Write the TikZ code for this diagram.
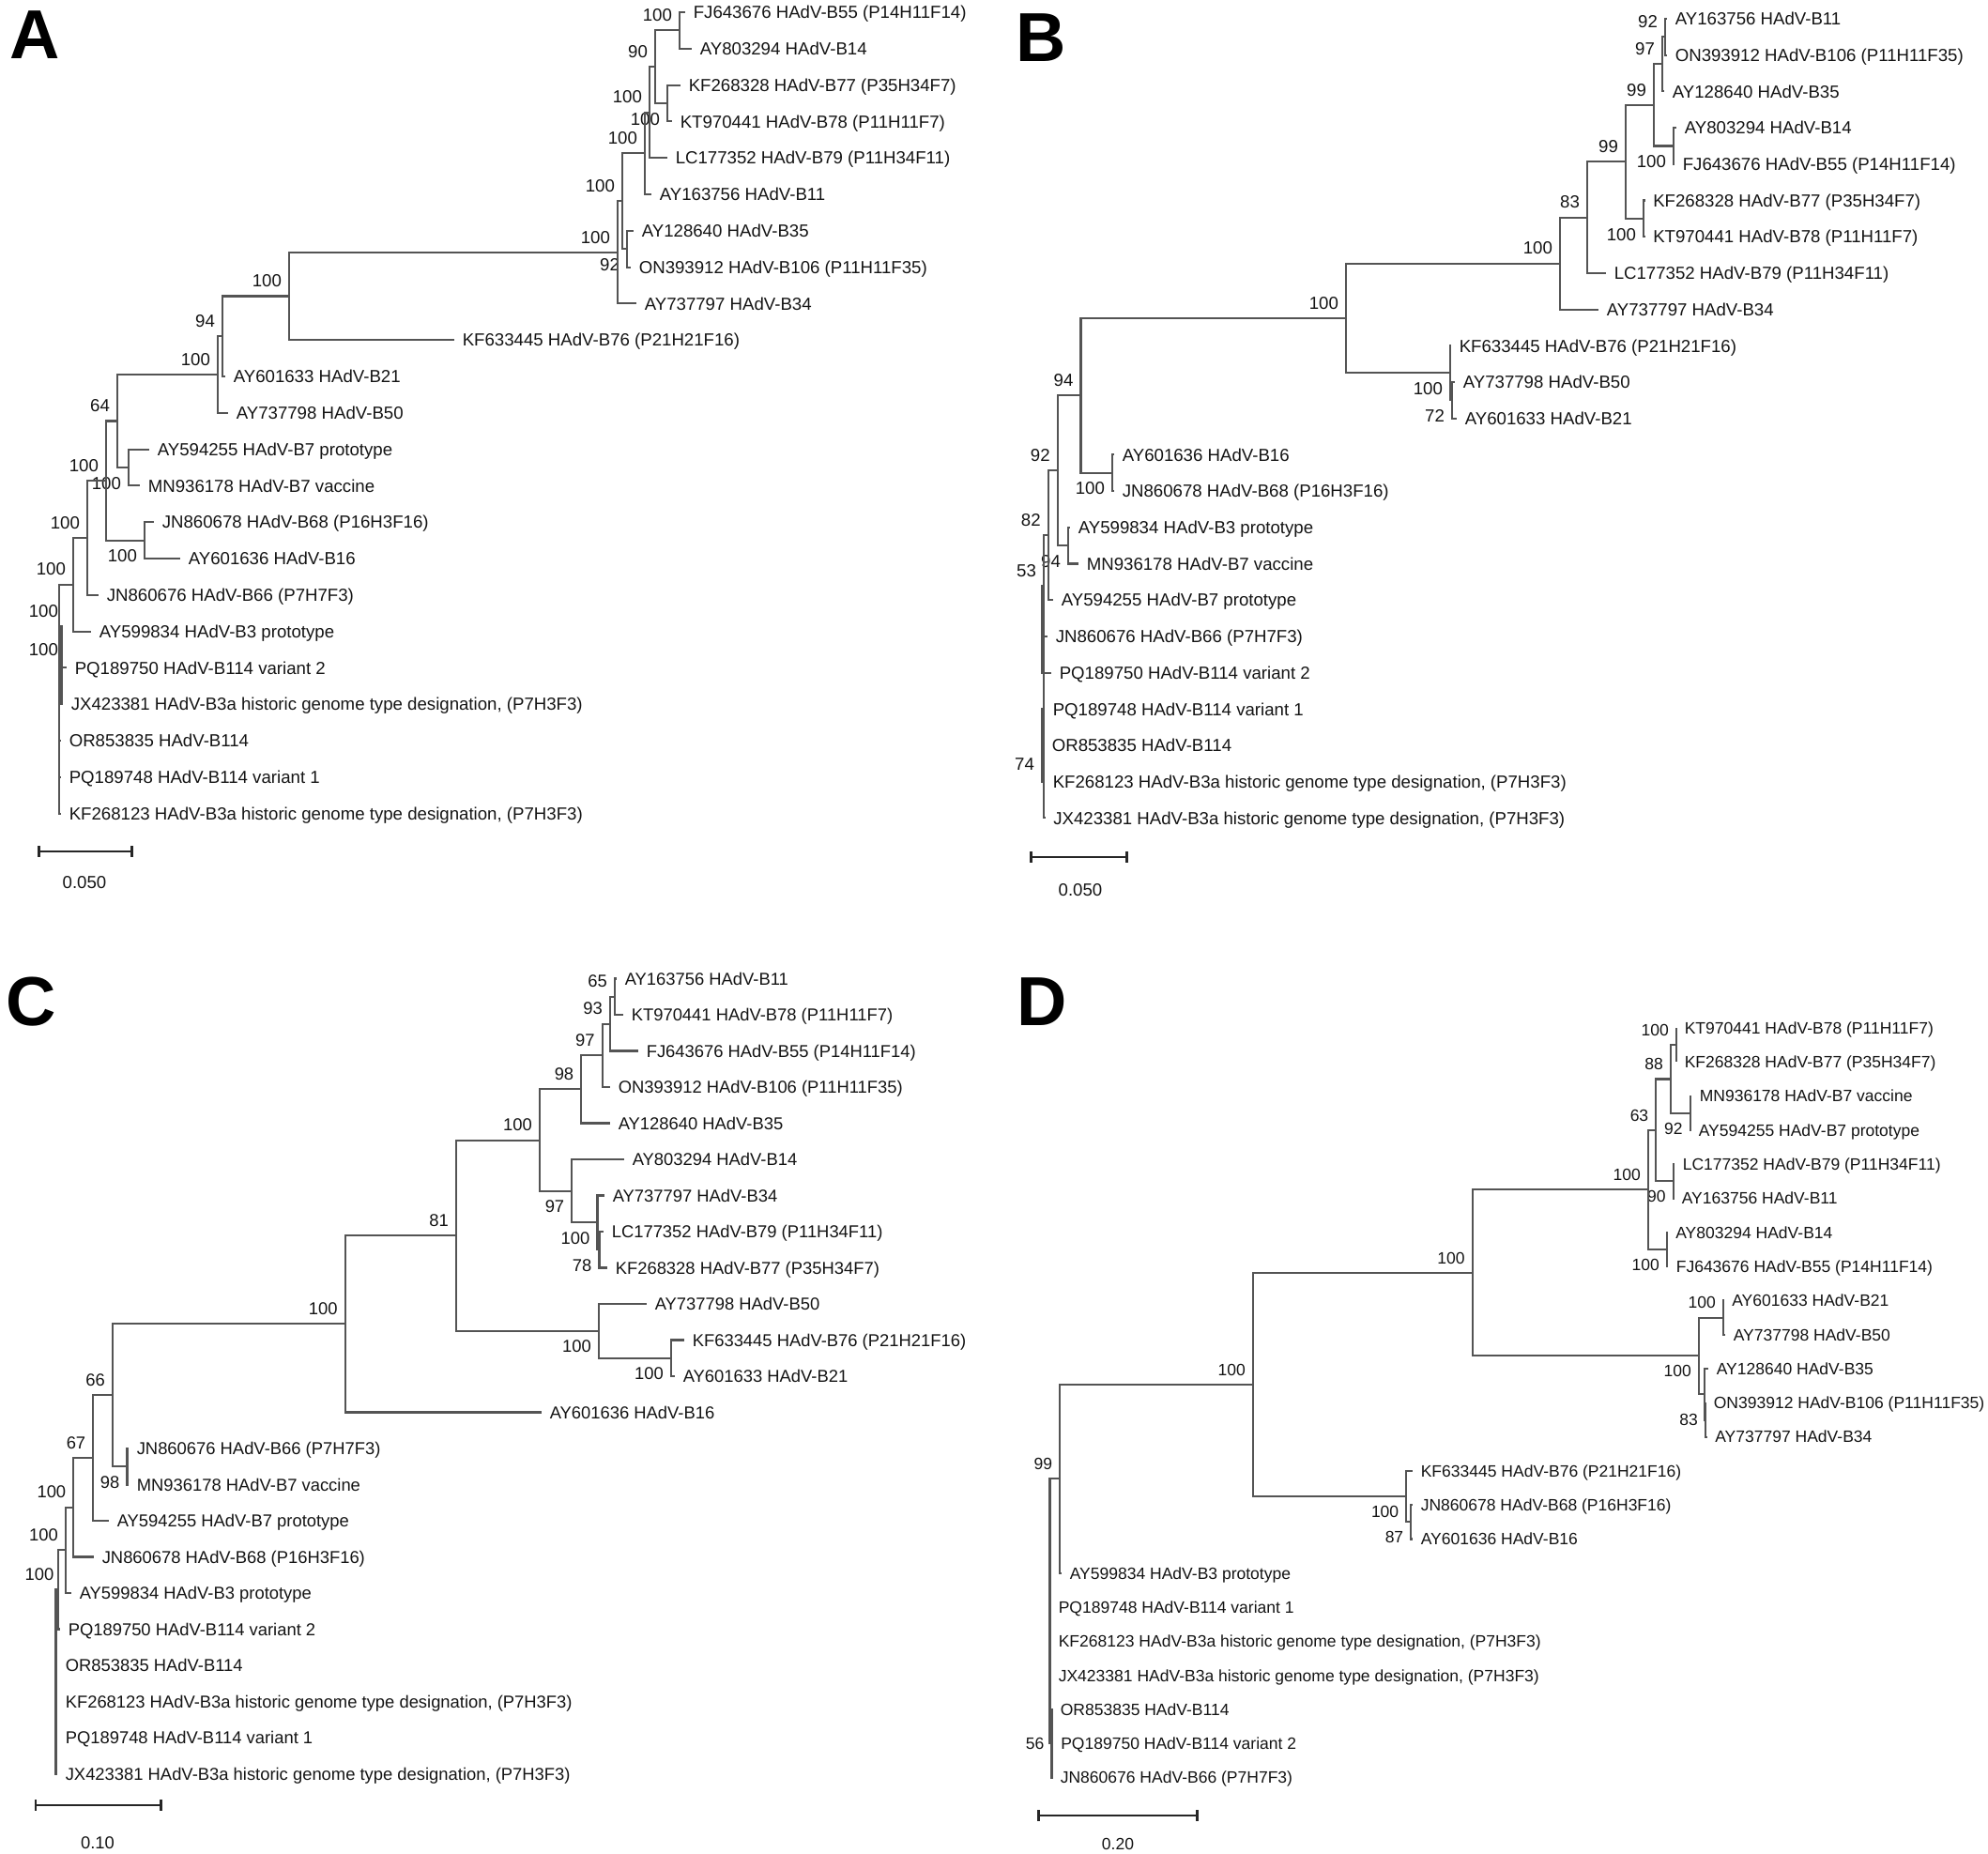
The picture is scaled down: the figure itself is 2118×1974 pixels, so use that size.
\documentclass[tikz,border=0pt]{standalone}
\usepackage{fontspec}
\setmainfont{Liberation Sans}
\usetikzlibrary{arrows.meta}
\definecolor{treeline}{gray}{0.33}
\definecolor{treetext}{gray}{0.08}

\begin{document}
\begin{tikzpicture}[x=0.01cm,y=-0.01cm,line width=0.6pt]
  \def\treefont{\fontsize{5.3pt}{6pt}\selectfont}
  \def\treecap{3.8pt}
  \tikzstyle{leaf}=[anchor=west,inner xsep=2.2pt,inner ysep=0.5pt,
                    text height=\treecap,text depth=0pt,
                    text=treetext,font=\treefont]
  \tikzstyle{boot}=[inner xsep=2pt,inner ysep=2.5pt,
                    text height=\treecap,text depth=0pt,
                    text=treetext,font=\treefont]
  \tikzstyle{bsa}=[boot,anchor=south east]
  \tikzstyle{bsb}=[boot,anchor=north east]
  \tikzstyle{bsl}=[boot,anchor=east]
  \tikzstyle{br}=[draw=treeline,to path={|- (\tikztotarget)}]
  \tikzstyle{sbar}=[draw=black!85,line width=0.8pt,
                    {Bar[width=3.2pt]}-{Bar[width=3.2pt]}]
  \tikzstyle{panel}=[font=\fontsize{21pt}{24pt}\selectfont\bfseries]
  \useasboundingbox (0,0) rectangle (2118,1974);

  %Panel letters
  \node[panel] (pa) at (37.5,37) {A};
  \node[panel] (pb) at (1109,40) {B};
  \node[panel] (pc) at (33,1067) {C};
  \node[panel] (pd) at (1110,1067) {D};

  %Panel A: leaves
  \node[leaf] (B55a) at (730,13) {FJ643676 HAdV-B55 (P14H11F14)};
  \node[leaf] (B14a) at (737,51.8) {AY803294 HAdV-B14};
  \node[leaf] (B77a) at (725,90.6) {KF268328 HAdV-B77 (P35H34F7)};
  \node[leaf] (B78a) at (716,129.4) {KT970441 HAdV-B78 (P11H11F7)};
  \node[leaf] (B79a) at (711,168.2) {LC177352 HAdV-B79 (P11H34F11)};
  \node[leaf] (B11a) at (694,207) {AY163756 HAdV-B11};
  \node[leaf] (B35a) at (675,245.8) {AY128640 HAdV-B35};
  \node[leaf] (B106a) at (672,284.6) {ON393912 HAdV-B106 (P11H11F35)};
  \node[leaf] (B34a) at (678,323.4) {AY737797 HAdV-B34};
  \node[leaf] (B76a) at (484,362.2) {KF633445 HAdV-B76 (P21H21F16)};
  \node[leaf] (B21a) at (240,401) {AY601633 HAdV-B21};
  \node[leaf] (B50a) at (243,439.8) {AY737798 HAdV-B50};
  \node[leaf] (B7pa) at (159,478.6) {AY594255 HAdV-B7 prototype};
  \node[leaf] (B7va) at (149,517.4) {MN936178 HAdV-B7 vaccine};
  \node[leaf] (B68a) at (164,556.2) {JN860678 HAdV-B68 (P16H3F16)};
  \node[leaf] (B16a) at (192,595) {AY601636 HAdV-B16};
  \node[leaf] (B66a) at (105,633.8) {JN860676 HAdV-B66 (P7H7F3)};
  \node[leaf] (B3pa) at (97,672.6) {AY599834 HAdV-B3 prototype};
  \node[leaf] (V2a) at (71,711.4) {PQ189750 HAdV-B114 variant 2};
  \node[leaf] (B3jxa) at (67,750.2) {JX423381 HAdV-B3a historic genome type designation, (P7H3F3)};
  \node[leaf] (B114a) at (65,789) {OR853835 HAdV-B114};
  \node[leaf] (V1a) at (65,827.8) {PQ189748 HAdV-B114 variant 1};
  \node[leaf] (B3kfa) at (65,866.6) {KF268123 HAdV-B3a historic genome type designation, (P7H3F3)};
  %Panel A: inner nodes
  \coordinate (n1a) at (724,32.4);
  \coordinate (n2a) at (711,110);
  \coordinate (n3a) at (698,71.2);
  \coordinate (n4a) at (692,119.7);
  \coordinate (n5a) at (687,163.35);
  \coordinate (n6a) at (668,265.2);
  \coordinate (n7a) at (663,214.3);
  \coordinate (n8a) at (658,268.85);
  \coordinate (n9a) at (308,315.5);
  \coordinate (n10a) at (237,358.25);
  \coordinate (n11a) at (232,399);
  \coordinate (n12a) at (137,498);
  \coordinate (n13a) at (125,448.5);
  \coordinate (n14a) at (154,575.6);
  \coordinate (n15a) at (113,512);
  \coordinate (n16a) at (93,572.9);
  \coordinate (n17a) at (78,622.75);
  \coordinate (n18a) at (63,667);
  \coordinate (n19a) at (65.5,708.6);
  \coordinate (n20a) at (63,787.6);
  %Panel A: bootstrap
  \node[bsa] (s1a) at (n1a) {100};
  \node[bsb] (s2a) at (n2a) {100};
  \node[bsa] (s3a) at (n3a) {90};
  \node[bsa] (s4a) at (n4a) {100};
  \node[bsa] (s5a) at (n5a) {100};
  \node[bsb] (s6a) at (n6a) {92};
  \node[bsa] (s7a) at (n7a) {100};
  \node[bsa] (s8a) at (n8a) {100};
  \node[bsa] (s9a) at (n9a) {100};
  \node[bsa] (s10a) at (n10a) {94};
  \node[bsa] (s11a) at (n11a) {100};
  \node[bsb] (s12a) at (n12a) {100};
  \node[bsa] (s13a) at (n13a) {64};
  \node[bsb] (s14a) at (n14a) {100};
  \node[bsa] (s15a) at (n15a) {100};
  \node[bsa] (s16a) at (n16a) {100};
  \node[bsa] (s17a) at (n17a) {100};
  \node[bsa,xshift=2pt] (s18a) at (n18a) {100};
  \node[bsa,xshift=1.3pt] (s19a) at (n19a) {100};
  \path (n1a) edge[br] (B55a) edge[br] (B14a)
        (n2a) edge[br] (B77a) edge[br] (B78a)
        (n3a) edge[br] (n1a) edge[br] (n2a)
        (n4a) edge[br] (n3a) edge[br] (B79a)
        (n5a) edge[br] (n4a) edge[br] (B11a)
        (n6a) edge[br] (B35a) edge[br] (B106a)
        (n7a) edge[br] (n5a) edge[br] (n6a)
        (n8a) edge[br] (n7a) edge[br] (B34a)
        (n9a) edge[br] (n8a) edge[br] (B76a)
        (n10a) edge[br] (n9a) edge[br] (B21a)
        (n11a) edge[br] (n10a) edge[br] (B50a)
        (n12a) edge[br] (B7pa) edge[br] (B7va)
        (n13a) edge[br] (n11a) edge[br] (n12a)
        (n14a) edge[br] (B68a) edge[br] (B16a)
        (n15a) edge[br] (n13a) edge[br] (n14a)
        (n16a) edge[br] (n15a) edge[br] (B66a)
        (n17a) edge[br] (n16a) edge[br] (B3pa)
        (n18a) edge[br] (n17a) edge[br] (V2a)
        (n19a) edge[br] (n18a) edge[br] (B3jxa)
        (n20a) edge[br] (n19a) edge[br] (B114a) edge[br] (V1a) edge[br] (B3kfa);
  \coordinate (sa1) at (40,907);
  \coordinate (sa2) at (142,907);
  \draw[sbar] (sa1) -- (sa2);
  \node[boot,anchor=center] (la) at (90,940) {0.050};

  %Panel B: leaves
  \node[leaf] (B11b) at (1776,20) {AY163756 HAdV-B11};
  \node[leaf] (B106b) at (1776,58.7) {ON393912 HAdV-B106 (P11H11F35)};
  \node[leaf] (B35b) at (1773,97.4) {AY128640 HAdV-B35};
  \node[leaf] (B14b) at (1786,136.1) {AY803294 HAdV-B14};
  \node[leaf] (B55b) at (1784,174.8) {FJ643676 HAdV-B55 (P14H11F14)};
  \node[leaf] (B77b) at (1752.5,213.5) {KF268328 HAdV-B77 (P35H34F7)};
  \node[leaf] (B78b) at (1752.5,252.2) {KT970441 HAdV-B78 (P11H11F7)};
  \node[leaf] (B79b) at (1711,290.9) {LC177352 HAdV-B79 (P11H34F11)};
  \node[leaf] (B34b) at (1703,329.6) {AY737797 HAdV-B34};
  \node[leaf] (B76b) at (1546,368.3) {KF633445 HAdV-B76 (P21H21F16)};
  \node[leaf] (B50b) at (1550,407) {AY737798 HAdV-B50};
  \node[leaf] (B21b) at (1552,445.7) {AY601633 HAdV-B21};
  \node[leaf] (B16b) at (1187,484.4) {AY601636 HAdV-B16};
  \node[leaf] (B68b) at (1187,523.1) {JN860678 HAdV-B68 (P16H3F16)};
  \node[leaf] (B3pb) at (1140,561.8) {AY599834 HAdV-B3 prototype};
  \node[leaf] (B7vb) at (1149,600.5) {MN936178 HAdV-B7 vaccine};
  \node[leaf] (B7pb) at (1122,639.2) {AY594255 HAdV-B7 prototype};
  \node[leaf] (B66b) at (1116,677.9) {JN860676 HAdV-B66 (P7H7F3)};
  \node[leaf] (V2b) at (1120,716.6) {PQ189750 HAdV-B114 variant 2};
  \node[leaf] (V1b) at (1113,755.3) {PQ189748 HAdV-B114 variant 1};
  \node[leaf] (B114b) at (1112,794) {OR853835 HAdV-B114};
  \node[leaf] (B3kfb) at (1113,832.7) {KF268123 HAdV-B3a historic genome type designation, (P7H3F3)};
  \node[leaf] (B3jxb) at (1113.5,871.4) {JX423381 HAdV-B3a historic genome type designation, (P7H3F3)};
  %Panel B: inner nodes
  \coordinate (n1b) at (1774,39.35);
  \coordinate (n2b) at (1771,68.4);
  \coordinate (n3b) at (1783,155.45);
  \coordinate (n4b) at (1762,111.9);
  \coordinate (n5b) at (1751,232.85);
  \coordinate (n6b) at (1732,172.4);
  \coordinate (n7b) at (1691,231.65);
  \coordinate (n8b) at (1662,280.6);
  \coordinate (n9b) at (1434,338.95);
  \coordinate (n10b) at (1545,397.3);
  \coordinate (n11b) at (1547,426.35);
  \coordinate (n12b) at (1151.5,421.35);
  \coordinate (n13b) at (1185,503.75);
  \coordinate (n14b) at (1126.7,501.25);
  \coordinate (n15b) at (1138,581.15);
  \coordinate (n16b) at (1116.7,570.2);
  \coordinate (n17b) at (1112,624);
  \coordinate (n18b) at (1110,670.3);
  \coordinate (n19b) at (1112,749);
  \coordinate (n20b) at (1110,784.3);
  \coordinate (n21b) at (1110,813.35);
  \coordinate (n22b) at (1112,827.85);
  %Panel B: bootstrap
  \node[bsa] (s1b) at (n1b) {92};
  \node[bsa] (s2b) at (n2b) {97};
  \node[bsb] (s3b) at (n3b) {100};
  \node[bsa] (s4b) at (n4b) {99};
  \node[bsb] (s5b) at (n5b) {100};
  \node[bsa] (s6b) at (n6b) {99};
  \node[bsa] (s7b) at (n7b) {83};
  \node[bsa] (s8b) at (n8b) {100};
  \node[bsa] (s9b) at (n9b) {100};
  \node[bsb] (s10b) at (n10b) {100};
  \node[bsb] (s11b) at (n11b) {72};
  \node[bsa] (s12b) at (n12b) {94};
  \node[bsb] (s13b) at (n13b) {100};
  \node[bsa] (s14b) at (n14b) {92};
  \node[bsb] (s15b) at (n15b) {94};
  \node[bsa] (s16b) at (n16b) {82};
  \node[bsa] (s17b) at (n17b) {53};
  \node[bsl] (s21b) at (n21b) {74};
  \path (n1b) edge[br] (B11b) edge[br] (B106b)
        (n2b) edge[br] (n1b) edge[br] (B35b)
        (n3b) edge[br] (B14b) edge[br] (B55b)
        (n4b) edge[br] (n2b) edge[br] (n3b)
        (n5b) edge[br] (B77b) edge[br] (B78b)
        (n6b) edge[br] (n4b) edge[br] (n5b)
        (n7b) edge[br] (n6b) edge[br] (B79b)
        (n8b) edge[br] (n7b) edge[br] (B34b)
        (n11b) edge[br] (B50b) edge[br] (B21b)
        (n10b) edge[br] (B76b) edge[br] (n11b)
        (n9b) edge[br] (n8b) edge[br] (n10b)
        (n13b) edge[br] (B16b) edge[br] (B68b)
        (n12b) edge[br] (n9b) edge[br] (n13b)
        (n15b) edge[br] (B3pb) edge[br] (B7vb)
        (n14b) edge[br] (n12b) edge[br] (n15b)
        (n16b) edge[br] (n14b) edge[br] (B7pb)
        (n17b) edge[br] (n16b) edge[br] (B66b)
        (n18b) edge[br] (n17b) edge[br] (V2b)
        (n21b) edge[br] (B114b) edge[br] (B3kfb)
        (n20b) edge[br] (V1b) edge[br] (n21b)
        (n22b) edge[br] (n20b) edge[br] (B3jxb)
        (n19b) edge[br] (n18b) edge[br] (n22b);
  \coordinate (sb1) at (1097,913);
  \coordinate (sb2) at (1202,913);
  \draw[sbar] (sb1) -- (sb2);
  \node[boot,anchor=center] (lb) at (1151,948) {0.050};

  %Panel C: leaves
  \def\treefont{\fontsize{5.23pt}{6pt}\selectfont}
  \def\treecap{3.75pt}
  \node[leaf] (B11c) at (657,1042.5) {AY163756 HAdV-B11};
  \node[leaf] (B78c) at (664,1081) {KT970441 HAdV-B78 (P11H11F7)};
  \node[leaf] (B55c) at (680,1119.5) {FJ643676 HAdV-B55 (P14H11F14)};
  \node[leaf] (B106c) at (650,1158) {ON393912 HAdV-B106 (P11H11F35)};
  \node[leaf] (B35c) at (650,1196.5) {AY128640 HAdV-B35};
  \node[leaf] (B14c) at (665,1235) {AY803294 HAdV-B14};
  \node[leaf] (B34c) at (644,1273.5) {AY737797 HAdV-B34};
  \node[leaf] (B79c) at (643,1312) {LC177352 HAdV-B79 (P11H34F11)};
  \node[leaf] (B77c) at (647,1350.5) {KF268328 HAdV-B77 (P35H34F7)};
  \node[leaf] (B50c) at (689,1389) {AY737798 HAdV-B50};
  \node[leaf] (B76c) at (729,1427.5) {KF633445 HAdV-B76 (P21H21F16)};
  \node[leaf] (B21c) at (719,1466) {AY601633 HAdV-B21};
  \node[leaf] (B16c) at (577,1504.5) {AY601636 HAdV-B16};
  \node[leaf] (B66c) at (137,1543) {JN860676 HAdV-B66 (P7H7F3)};
  \node[leaf] (B7vc) at (137,1581.5) {MN936178 HAdV-B7 vaccine};
  \node[leaf] (B7pc) at (116,1620) {AY594255 HAdV-B7 prototype};
  \node[leaf] (B68c) at (100,1658.5) {JN860678 HAdV-B68 (P16H3F16)};
  \node[leaf] (B3pc) at (76,1697) {AY599834 HAdV-B3 prototype};
  \node[leaf] (V2c) at (64,1735.5) {PQ189750 HAdV-B114 variant 2};
  \node[leaf] (B114c) at (61,1774) {OR853835 HAdV-B114};
  \node[leaf] (B3kfc) at (61,1812.5) {KF268123 HAdV-B3a historic genome type designation, (P7H3F3)};
  \node[leaf] (V1c) at (61,1851) {PQ189748 HAdV-B114 variant 1};
  \node[leaf] (B3jxc) at (61,1889.5) {JX423381 HAdV-B3a historic genome type designation, (P7H3F3)};
  %Panel C: inner nodes
  \coordinate (n1c) at (655,1061.75);
  \coordinate (n2c) at (650,1090.6);
  \coordinate (n3c) at (641.7,1124.3);
  \coordinate (n4c) at (619.3,1160.4);
  \coordinate (n5c) at (636.5,1302.4);
  \coordinate (n6c) at (638.5,1331.25);
  \coordinate (n7c) at (609.3,1268.7);
  \coordinate (n8c) at (575,1214.55);
  \coordinate (n9c) at (638,1417.9);
  \coordinate (n10c) at (715,1446.75);
  \coordinate (n11c) at (486,1316.2);
  \coordinate (n12c) at (367.7,1410.35);
  \coordinate (n13c) at (120,1486.3);
  \coordinate (n14c) at (135.5,1562.25);
  \coordinate (n15c) at (99.3,1553.15);
  \coordinate (n16c) at (78.3,1605.8);
  \coordinate (n17c) at (70,1651.4);
  \coordinate (n18c) at (62,1693.45);
  \coordinate (n19c) at (59.5,1791.5);
  %Panel C: bootstrap
  \node[bsa] (s1c) at (n1c) {65};
  \node[bsa] (s2c) at (n2c) {93};
  \node[bsa] (s3c) at (n3c) {97};
  \node[bsa] (s4c) at (n4c) {98};
  \node[bsb] (s5c) at (n5c) {100};
  \node[bsb] (s6c) at (n6c) {78};
  \node[bsb] (s7c) at (n7c) {97};
  \node[bsa] (s8c) at (n8c) {100};
  \node[bsb] (s9c) at (n9c) {100};
  \node[bsb] (s10c) at (n10c) {100};
  \node[bsa] (s11c) at (n11c) {81};
  \node[bsa] (s12c) at (n12c) {100};
  \node[bsa] (s13c) at (n13c) {66};
  \node[bsb] (s14c) at (n14c) {98};
  \node[bsa] (s15c) at (n15c) {67};
  \node[bsa] (s16c) at (n16c) {100};
  \node[bsa] (s17c) at (n17c) {100};
  \node[bsa,xshift=1pt] (s18c) at (n18c) {100};
  \path (n1c) edge[br] (B11c) edge[br] (B78c)
        (n2c) edge[br] (n1c) edge[br] (B55c)
        (n3c) edge[br] (n2c) edge[br] (B106c)
        (n4c) edge[br] (n3c) edge[br] (B35c)
        (n6c) edge[br] (B79c) edge[br] (B77c)
        (n5c) edge[br] (B34c) edge[br] (n6c)
        (n7c) edge[br] (B14c) edge[br] (n5c)
        (n8c) edge[br] (n4c) edge[br] (n7c)
        (n10c) edge[br] (B76c) edge[br] (B21c)
        (n9c) edge[br] (B50c) edge[br] (n10c)
        (n11c) edge[br] (n8c) edge[br] (n9c)
        (n12c) edge[br] (n11c) edge[br] (B16c)
        (n14c) edge[br] (B66c) edge[br] (B7vc)
        (n13c) edge[br] (n12c) edge[br] (n14c)
        (n15c) edge[br] (n13c) edge[br] (B7pc)
        (n16c) edge[br] (n15c) edge[br] (B68c)
        (n17c) edge[br] (n16c) edge[br] (B3pc)
        (n18c) edge[br] (n17c) edge[br] (V2c)
        (n19c) edge[br] (n18c) edge[br] (B114c) edge[br] (B3kfc)
               edge[br] (V1c) edge[br] (B3jxc);
  \coordinate (sc1) at (36.5,1923);
  \coordinate (sc2) at (173,1923);
  \draw[sbar] (sc1) -- (sc2);
  \node[boot,anchor=center] (lc) at (104,1963) {0.10};

  %Panel D: leaves
  \def\treefont{\fontsize{4.98pt}{6pt}\selectfont}
  \def\treecap{3.57pt}
  \node[leaf] (B78d) at (1786,1095) {KT970441 HAdV-B78 (P11H11F7)};
  \node[leaf] (B77d) at (1786,1131.3) {KF268328 HAdV-B77 (P35H34F7)};
  \node[leaf] (B7vd) at (1802,1167.6) {MN936178 HAdV-B7 vaccine};
  \node[leaf] (B7pd) at (1801,1203.9) {AY594255 HAdV-B7 prototype};
  \node[leaf] (B79d) at (1784,1240.2) {LC177352 HAdV-B79 (P11H34F11)};
  \node[leaf] (B11d) at (1783,1276.5) {AY163756 HAdV-B11};
  \node[leaf] (B14d) at (1776.5,1312.8) {AY803294 HAdV-B14};
  \node[leaf] (B55d) at (1777,1349.1) {FJ643676 HAdV-B55 (P14H11F14)};
  \node[leaf] (B21d) at (1836.5,1385.4) {AY601633 HAdV-B21};
  \node[leaf] (B50d) at (1838,1421.7) {AY737798 HAdV-B50};
  \node[leaf] (B35d) at (1820,1458) {AY128640 HAdV-B35};
  \node[leaf] (B106d) at (1817,1494.3) {ON393912 HAdV-B106 (P11H11F35)};
  \node[leaf] (B34d) at (1818.5,1530.6) {AY737797 HAdV-B34};
  \node[leaf] (B76d) at (1505,1566.9) {KF633445 HAdV-B76 (P21H21F16)};
  \node[leaf] (B68d) at (1505,1603.2) {JN860678 HAdV-B68 (P16H3F16)};
  \node[leaf] (B16d) at (1505,1639.5) {AY601636 HAdV-B16};
  \node[leaf] (B3pd) at (1131,1675.8) {AY599834 HAdV-B3 prototype};
  \node[leaf] (V1d) at (1119,1712.1) {PQ189748 HAdV-B114 variant 1};
  \node[leaf] (B3kfd) at (1119,1748.4) {KF268123 HAdV-B3a historic genome type designation, (P7H3F3)};
  \node[leaf] (B3jxd) at (1119,1784.7) {JX423381 HAdV-B3a historic genome type designation, (P7H3F3)};
  \node[leaf] (B114d) at (1121,1821) {OR853835 HAdV-B114};
  \node[leaf] (V2d) at (1121.5,1857.3) {PQ189750 HAdV-B114 variant 2};
  \node[leaf] (B66d) at (1121,1893.6) {JN860676 HAdV-B66 (P7H7F3)};
  %Panel D: inner nodes
  \coordinate (n1d) at (1786,1113.15);
  \coordinate (n2d) at (1800.7,1185.75);
  \coordinate (n3d) at (1780,1149.45);
  \coordinate (n4d) at (1782.7,1258.35);
  \coordinate (n5d) at (1764.3,1203.9);
  \coordinate (n6d) at (1776,1330.95);
  \coordinate (n7d) at (1756,1267.4);
  \coordinate (n8d) at (1836,1403.55);
  \coordinate (n9d) at (1816,1485.2);
  \coordinate (n10d) at (1817,1512.45);
  \coordinate (n11d) at (1810,1444.4);
  \coordinate (n12d) at (1568.6,1355.9);
  \coordinate (n13d) at (1335,1475);
  \coordinate (n14d) at (1498.3,1594.1);
  \coordinate (n15d) at (1503.3,1621.35);
  \coordinate (n16d) at (1129.3,1575.4);
  \coordinate (n17d) at (1118.5,1716);
  \coordinate (n18d) at (1120.5,1857.3);
  %Panel D: bootstrap
  \node[bsa] (s1d) at (n1d) {100};
  \node[bsb] (s2d) at (n2d) {92};
  \node[bsa] (s3d) at (n3d) {88};
  \node[bsb] (s4d) at (n4d) {90};
  \node[bsa] (s5d) at (n5d) {63};
  \node[bsb] (s6d) at (n6d) {100};
  \node[bsa] (s7d) at (n7d) {100};
  \node[bsa] (s8d) at (n8d) {100};
  \node[bsl] (s10d) at (n10d) {83};
  \node[bsb] (s11d) at (n11d) {100};
  \node[bsa] (s12d) at (n12d) {100};
  \node[bsa] (s13d) at (n13d) {100};
  \node[bsb] (s14d) at (n14d) {100};
  \node[bsb] (s15d) at (n15d) {87};
  \node[bsa] (s16d) at (n16d) {99};
  \node[bsl] (s18d) at (n18d) {56};
  \path (n1d) edge[br] (B78d) edge[br] (B77d)
        (n2d) edge[br] (B7vd) edge[br] (B7pd)
        (n3d) edge[br] (n1d) edge[br] (n2d)
        (n4d) edge[br] (B79d) edge[br] (B11d)
        (n5d) edge[br] (n3d) edge[br] (n4d)
        (n6d) edge[br] (B14d) edge[br] (B55d)
        (n7d) edge[br] (n5d) edge[br] (n6d)
        (n8d) edge[br] (B21d) edge[br] (B50d)
        (n10d) edge[br] (B106d) edge[br] (B34d)
        (n9d) edge[br] (B35d) edge[br] (n10d)
        (n11d) edge[br] (n8d) edge[br] (n9d)
        (n12d) edge[br] (n7d) edge[br] (n11d)
        (n15d) edge[br] (B68d) edge[br] (B16d)
        (n14d) edge[br] (B76d) edge[br] (n15d)
        (n13d) edge[br] (n12d) edge[br] (n14d)
        (n16d) edge[br] (n13d) edge[br] (B3pd)
        (n18d) edge[br] (B114d) edge[br] (V2d) edge[br] (B66d)
        (n17d) edge[br] (n16d) edge[br] (V1d) edge[br] (B3kfd)
               edge[br] (B3jxd) edge[br] (n18d);
  \coordinate (sd1) at (1105,1934);
  \coordinate (sd2) at (1277,1934);
  \draw[sbar] (sd1) -- (sd2);
  \node[boot,anchor=center] (ld) at (1191,1964) {0.20};
\end{tikzpicture}
\end{document}
